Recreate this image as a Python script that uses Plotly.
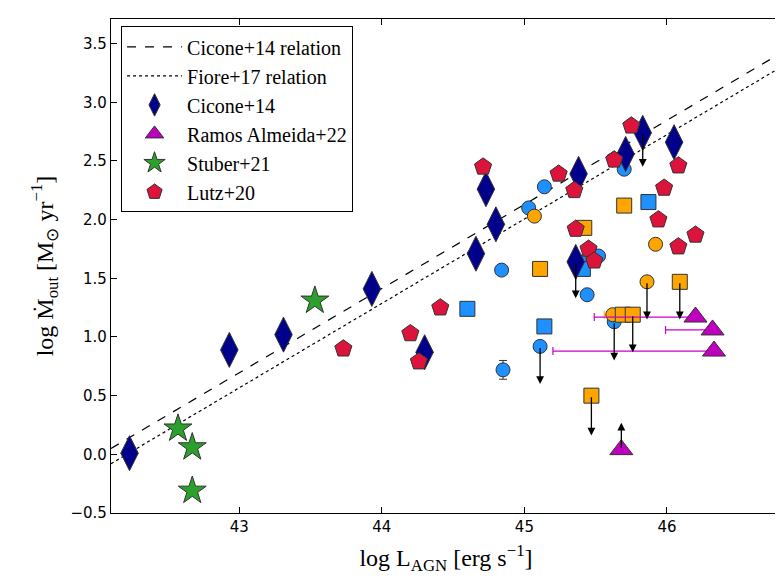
import plotly.graph_objects as go

# relations
rel_x = [42.1, 46.8]
cicone_rel_y = [0.05, 3.42]
fiore_rel_y = [-0.08, 3.30]

# Cicone+14
cic_x = [42.23, 42.93, 43.31, 43.93, 44.30, 44.66, 44.80, 44.73, 45.38, 45.36, 45.71, 45.83, 46.05]
cic_y = [0.01, 0.89, 1.02, 1.41, 0.87, 1.71, 1.96, 2.26, 2.39, 1.64, 2.56, 2.74, 2.66]

# Lutz+20
lutz_x = [43.73, 44.20, 44.26, 44.41, 44.71, 45.24, 45.35, 45.36, 45.45, 45.49, 45.63, 45.75,
          46.08, 45.98, 45.94, 46.08, 46.20]
lutz_y = [0.90, 1.03, 0.79, 1.25, 2.45, 2.39, 2.25, 1.92, 1.75, 1.65, 2.51, 2.80,
          2.46, 2.27, 2.00, 1.77, 1.87]

# Stuber+21
stu_x = [42.57, 42.67, 42.67, 43.53]
stu_y = [0.22, 0.06, -0.31, 1.31]

# Ramos Almeida+22
ram_x = [46.20, 46.32, 46.33, 45.68]
ram_y = [1.17, 1.06, 0.88, 0.04]
ram_xerr_minus = [0.71, 0.33, 1.13, 0.0]

# other samples (not in legend)
bcirc_x = [45.14, 45.03, 45.70, 44.84, 45.45, 45.52, 45.44, 45.63, 45.11, 44.85]
bcirc_y = [2.28, 2.10, 2.43, 1.57, 1.68, 1.69, 1.36, 1.13, 0.92, 0.72]
bcirc_err = [0, 0, 0, 0, 0, 0, 0, 0, 0, 0.08]
ocirc_x = [45.07, 45.92, 45.86, 45.62]
ocirc_y = [2.03, 1.79, 1.47, 1.19]
ocirc_xerr_minus = [0, 0, 0, 0.06]
osq_x = [45.70, 45.42, 45.11, 46.09, 45.69, 45.76, 45.47]
osq_y = [2.12, 1.93, 1.58, 1.47, 1.19, 1.19, 0.50]
bsq_x = [45.87, 45.41, 44.60, 45.14]
bsq_y = [2.15, 1.58, 1.24, 1.09]

# limit arrows: (x, y_from, y_to)
arrows = [
    (45.36, 1.64, 1.33), (45.83, 2.74, 2.45),
    (45.63, 1.13, 0.80), (45.11, 0.92, 0.60),
    (45.86, 1.47, 1.15), (46.09, 1.47, 1.15),
    (45.76, 1.19, 0.87), (45.47, 0.50, 0.16),
    (45.68, 0.04, 0.27),
]

serif = "Liberation Serif"
edge = dict(color="#333333", width=1)
fig = go.Figure()

for ax_, y0, y1 in arrows:
    fig.add_annotation(x=ax_, y=y1, ax=ax_, ay=y0, xref="x", yref="y", axref="x", ayref="y",
                       showarrow=True, arrowhead=2, arrowsize=1.2, arrowwidth=1.3,
                       arrowcolor="black", text="")

fig.add_trace(go.Scatter(x=rel_x, y=cicone_rel_y, mode="lines", name="Cicone+14 relation",
                         line=dict(color="black", width=1.2, dash="dash")))
fig.add_trace(go.Scatter(x=rel_x, y=fiore_rel_y, mode="lines", name="Fiore+17 relation",
                         line=dict(color="black", width=1.2, dash="dot")))

fig.add_trace(go.Scatter(x=bcirc_x, y=bcirc_y, mode="markers", showlegend=False,
                         error_y=dict(type="data", array=bcirc_err, color="#333333", width=4, thickness=1),
                         marker=dict(symbol="circle", size=14, color="#1e90ff", line=edge)))
fig.add_trace(go.Scatter(x=ocirc_x, y=ocirc_y, mode="markers", showlegend=False,
                         error_x=dict(type="data", array=[0] * 4, arrayminus=ocirc_xerr_minus,
                                      color="orange", width=4, thickness=1),
                         marker=dict(symbol="circle", size=14, color="orange", line=edge)))
fig.add_trace(go.Scatter(x=osq_x, y=osq_y, mode="markers", showlegend=False,
                         marker=dict(symbol="square", size=15, color="orange", line=edge)))
fig.add_trace(go.Scatter(x=bsq_x, y=bsq_y, mode="markers", showlegend=False,
                         marker=dict(symbol="square", size=15, color="#1e90ff", line=edge)))

fig.add_trace(go.Scatter(x=cic_x, y=cic_y, mode="markers", name="Cicone+14",
                         marker=dict(symbol="diamond-tall", size=25, color="#00008b", line=edge)))
fig.add_trace(go.Scatter(x=ram_x, y=ram_y, mode="markers", name="Ramos Almeida+22",
                         error_x=dict(type="data", array=[0] * 4, arrayminus=ram_xerr_minus,
                                      color="#cc00cc", width=4, thickness=1.2),
                         marker=dict(symbol="triangle-up", size=20, color="#bf00bf", line=edge)))
fig.add_trace(go.Scatter(x=stu_x, y=stu_y, mode="markers", name="Stuber+21",
                         marker=dict(symbol="star", size=21, color="#2ca02c", line=edge)))
fig.add_trace(go.Scatter(x=lutz_x, y=lutz_y, mode="markers", name="Lutz+20",
                         marker=dict(symbol="pentagon", size=18, color="#dc143c", line=edge)))

axis = dict(showline=True, linecolor="black", linewidth=1.2, mirror="ticks", ticks="inside",
            ticklen=6, tickcolor="black", showgrid=False, zeroline=False, automargin=False,
            tickfont=dict(family="DejaVu Sans", size=15, color="black"))
fig.update_xaxes(range=[42.1, 46.8], dtick=1, **axis,
                 title=dict(text="log L<sub>AGN</sub> [erg s<sup>−1</sup>]",
                            font=dict(family=serif, size=24, color="black"), standoff=14))
fig.update_yaxes(range=[-0.5, 3.71], dtick=0.5, tickformat=".1f", **axis,
                 title=dict(text="log Ṁ<sub>out</sub> [M<sub>⊙</sub> yr<sup>−1</sup>]",
                            font=dict(family=serif, size=24, color="black"), standoff=10))
fig.update_layout(width=783, height=582, plot_bgcolor="white", paper_bgcolor="white",
                  margin=dict(l=103, r=10, t=11, b=77),
                  legend=dict(x=0.015, y=0.985, xanchor="left", yanchor="top",
                              bordercolor="black", borderwidth=1, bgcolor="white",
                              font=dict(family=serif, size=20, color="black"),
                              itemwidth=55))
fig.write_html("out.html")
